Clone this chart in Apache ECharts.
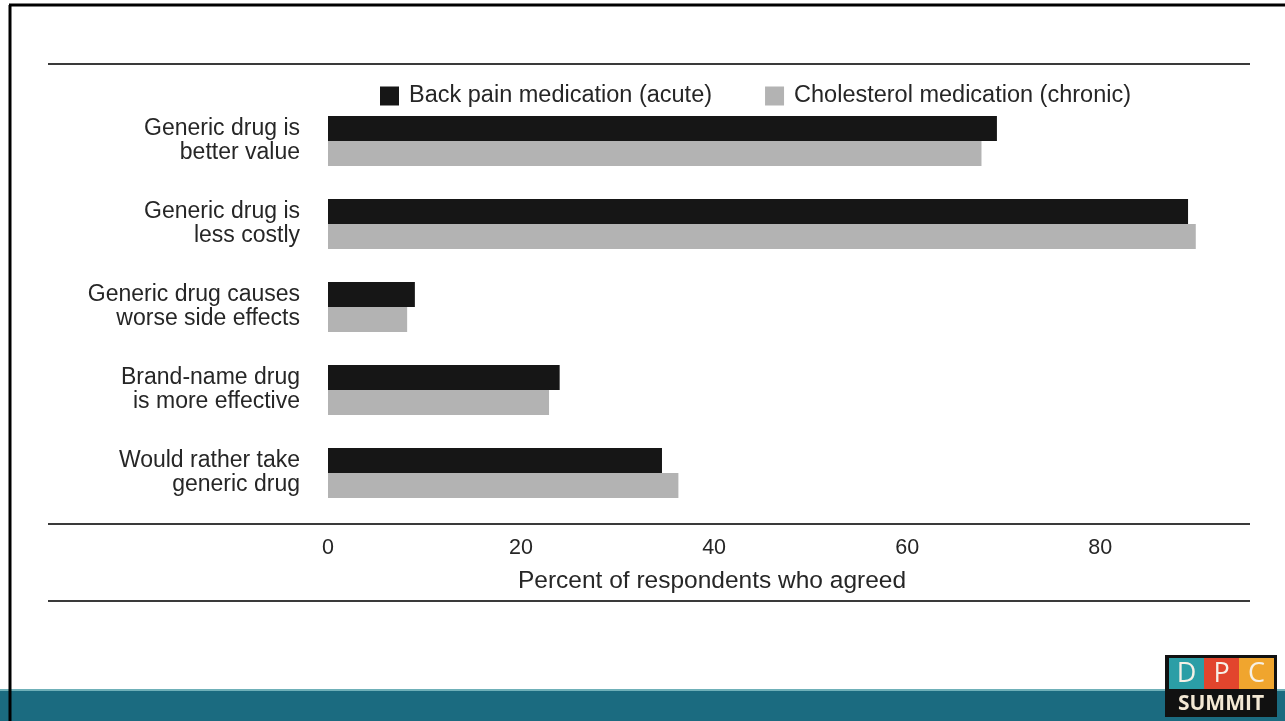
<!DOCTYPE html>
<html>
<head>
<meta charset="utf-8">
<script src="https://cdn.jsdelivr.net/npm/echarts@6/dist/echarts.min.js"></script>
<style>
  html, body { margin: 0; padding: 0; background: #ffffff; }
  #chart { width: 1285px; height: 721px; }
</style>
</head>
<body>
<div id="chart"></div>
<script>
// Survey statements (top to bottom)
const categories = [
  'Generic drug is\nbetter value',
  'Generic drug is\nless costly',
  'Generic drug causes\nworse side effects',
  'Brand-name drug\nis more effective',
  'Would rather take\ngeneric drug'
];
// Percent of respondents who agreed
const acuteValues   = [69.3, 89.1, 9.0, 24.0, 34.6];
const chronicValues = [67.7, 89.9, 8.2, 22.9, 36.3];
const seriesNames = ['Back pain medication (acute)', 'Cholesterol medication (chronic)'];
const tickValues = [0, 20, 40, 60, 80];
const axisTitle = 'Percent of respondents who agreed';

const FONT = '"Liberation Sans", Arial, sans-serif';
const TEXT = '#262626';
const RULE = '#3a3a3a';
const BADGE_FONT = '"Open Sans", sans-serif';

const chart = echarts.init(document.getElementById('chart'), null, { renderer: 'canvas' });

chart.setOption({
  backgroundColor: '#ffffff',
  animation: false,
  textStyle: { fontFamily: FONT },
  legend: {
    left: 375,
    top: 79,
    icon: 'rect',
    itemWidth: 19,
    itemHeight: 19,
    itemGap: 53,
    selectedMode: false,
    textStyle: { fontSize: 23.5, color: TEXT, fontFamily: FONT, padding: [0, 0, 0, 5] },
    data: seriesNames
  },
  grid: { left: 328, top: 99.5, height: 415, right: 40, containLabel: false },
  xAxis: {
    type: 'value',
    min: 0,
    max: 95,
    interval: 20,
    axisLine: { show: false },
    axisTick: { show: false },
    splitLine: { show: false },
    axisLabel: {
      margin: 23,
      fontSize: 21.5,
      color: TEXT,
      fontFamily: FONT,
      showMaxLabel: false,
      formatter: v => (tickValues.indexOf(v) >= 0 ? String(v) : '')
    }
  },
  yAxis: {
    type: 'category',
    inverse: true,
    data: categories,
    axisLine: { show: false },
    axisTick: { show: false },
    axisLabel: {
      margin: 28,
      fontSize: 23,
      lineHeight: 24,
      color: TEXT,
      fontFamily: FONT,
      align: 'right'
    }
  },
  series: [
    {
      name: seriesNames[0],
      type: 'bar',
      data: acuteValues,
      barWidth: 25,
      barGap: '0%',
      itemStyle: { color: '#161616' }
    },
    {
      name: seriesNames[1],
      type: 'bar',
      data: chronicValues,
      barWidth: 25,
      barGap: '0%',
      itemStyle: { color: '#b3b3b3' }
    }
  ],
  graphic: [
    // slide frame
    { type: 'line', shape: { x1: 9, y1: 5, x2: 1285, y2: 5 }, style: { stroke: '#000', lineWidth: 3 }, z: 10 },
    { type: 'line', shape: { x1: 10, y1: 5, x2: 10, y2: 721 }, style: { stroke: '#000', lineWidth: 3 }, z: 10 },
    // horizontal rules
    { type: 'line', shape: { x1: 48, y1: 64, x2: 1250, y2: 64 }, style: { stroke: RULE, lineWidth: 2 } },
    { type: 'line', shape: { x1: 48, y1: 524, x2: 1250, y2: 524 }, style: { stroke: RULE, lineWidth: 2 } },
    { type: 'line', shape: { x1: 48, y1: 601, x2: 1250, y2: 601 }, style: { stroke: RULE, lineWidth: 2 } },
    // axis title
    {
      type: 'text',
      style: { text: axisTitle, x: 712, y: 581, fontSize: 24.5, fill: TEXT, fontFamily: FONT, textAlign: 'center', textVerticalAlign: 'middle' }
    },
    // footer band
    { type: 'rect', shape: { x: 0, y: 690, width: 1285, height: 31 }, style: { fill: '#1b6b80' }, z: 5 },
    { type: 'rect', shape: { x: 0, y: 689, width: 1285, height: 2 }, style: { fill: '#6fb0b8' }, z: 5 },
    // summit badge
    { type: 'rect', z: 20, shape: { x: 1165, y: 655, width: 112, height: 62 }, style: { fill: '#111111' } },
    { type: 'rect', z: 21, shape: { x: 1169, y: 658, width: 35, height: 31 }, style: { fill: '#2b9ea6' } },
    { type: 'rect', z: 21, shape: { x: 1204, y: 658, width: 35, height: 31 }, style: { fill: '#e2452d' } },
    { type: 'rect', z: 21, shape: { x: 1239, y: 658, width: 35, height: 31 }, style: { fill: '#f0a52e' } },
    { type: 'text', z: 22, style: { text: 'D', x: 1186.5, y: 674, fontSize: 27, fill: '#f6f0e6', fontFamily: BADGE_FONT, textAlign: 'center', textVerticalAlign: 'middle' } },
    { type: 'text', z: 22, style: { text: 'P', x: 1221.5, y: 674, fontSize: 27, fill: '#f6f0e6', fontFamily: BADGE_FONT, textAlign: 'center', textVerticalAlign: 'middle' } },
    { type: 'text', z: 22, style: { text: 'C', x: 1256.5, y: 674, fontSize: 27, fill: '#f6f0e6', fontFamily: BADGE_FONT, textAlign: 'center', textVerticalAlign: 'middle' } },
    { type: 'text', z: 22, style: { text: 'SUMMIT', x: 1221, y: 704, fontSize: 21, fontWeight: 'bold', fill: '#f3e8d4', fontFamily: BADGE_FONT, textAlign: 'center', textVerticalAlign: 'middle' } }
  ]
});
</script>
</body>
</html>
